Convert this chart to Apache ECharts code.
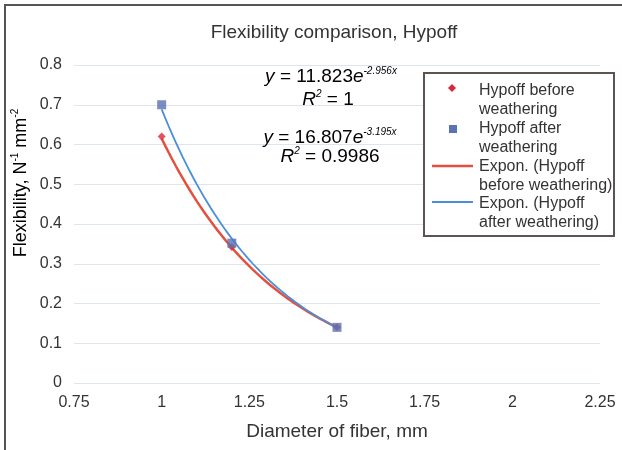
<!DOCTYPE html>
<html><head><meta charset="utf-8">
<script src="https://cdn.jsdelivr.net/npm/echarts@6/dist/echarts.min.js"></script>
<style>html,body{margin:0;padding:0;background:#fff}#c{width:622px;height:450px}</style>
</head><body><div id="c"></div>
<script>
// ---- data ----
const diameters = [1, 1.2, 1.5];
const beforeValues = [0.62, 0.342, 0.14];
const afterValues = [0.70, 0.352, 0.14];
// exponential trendline coefficients shown on the chart: y = a * e^(b x)
const beforeFit = [11.823, -2.956];
const afterFit = [16.807, -3.195];
const xTicks = [0.75, 1, 1.25, 1.5, 1.75, 2, 2.25];
const yTicks = [0, 0.1, 0.2, 0.3, 0.4, 0.5, 0.6, 0.7, 0.8];
const seriesNames = ['Hypoff before\nweathering', 'Hypoff after\nweathering', 'Expon. (Hypoff\nbefore weathering)', 'Expon. (Hypoff\nafter weathering)'];

function trend(fit) {
  const pts = [];
  const x0 = diameters[0], x1 = diameters[diameters.length - 1];
  const n = 50;
  for (let i = 0; i <= n; i++) {
    const x = x0 + (x1 - x0) * i / n;
    pts.push([x, fit[0] * Math.exp(fit[1] * x)]);
  }
  return pts;
}

const FONT = '"Liberation Sans", Arial, sans-serif';
const TXT = '#333';
const RED = '#e4503e', BLUE = '#4b8ed8', DIAM = '#d9283a', SQ = '#5a72b5';

const chart = echarts.init(document.getElementById('c'), null, {renderer: 'canvas'});
const eqRich = {
  t: {fontSize: 19, fontFamily: FONT, color: TXT, lineHeight: 22},
  i: {fontSize: 19, fontFamily: FONT, color: TXT, fontStyle: 'italic', lineHeight: 22},
  sup: {fontSize: 10, fontFamily: FONT, color: '#555', fontStyle: 'italic', verticalAlign: 'top', lineHeight: 22, padding: [0, 0, 10, 0]}
};
const nameRich = {
  t: {fontSize: 18, fontFamily: FONT, color: TXT, lineHeight: 22},
  sup: {fontSize: 10, fontFamily: FONT, color: TXT, verticalAlign: 'top', lineHeight: 22, padding: [0, 0, 10, 0]}
};
const legText = {fontSize: 16, fontFamily: FONT, fill: TXT, lineHeight: 18.8};
chart.setOption({
  animation: false,
  backgroundColor: '#fff',
  textStyle: {fontFamily: FONT},
  title: {text: 'Flexibility comparison, Hypoff', left: 329, top: 18, textAlign: 'center',
    textStyle: {fontSize: 19, fontWeight: 'normal', color: TXT, fontFamily: FONT}},
  grid: {left: 74, right: 22, top: 65, bottom: 67},
  xAxis: {type: 'value', min: xTicks[0], max: xTicks[xTicks.length - 1], interval: 0.25,
    axisLine: {show: false}, axisTick: {show: false}, splitLine: {show: false},
    axisLabel: {color: TXT, fontSize: 16, margin: 12, fontFamily: FONT, formatter: v => String(+v.toFixed(2))},
    name: 'Diameter of fiber, mm', nameLocation: 'middle', nameGap: 39,
    nameTextStyle: {color: TXT, fontSize: 19, fontFamily: FONT}},
  yAxis: {type: 'value', min: yTicks[0], max: yTicks[yTicks.length - 1], interval: 0.1,
    axisLine: {show: false}, axisTick: {show: false},
    splitLine: {lineStyle: {color: '#dde6ef', width: 1}},
    axisLabel: {color: TXT, fontSize: 16, margin: 12, fontFamily: FONT, formatter: v => String(+v.toFixed(1))}},
  series: [
    {name: seriesNames[2], type: 'line', data: trend(beforeFit), showSymbol: false, smooth: false,
      lineStyle: {color: RED, width: 2.5}, z: 2},
    {name: seriesNames[3], type: 'line', data: trend(afterFit), showSymbol: false, smooth: false,
      lineStyle: {color: BLUE, width: 1.8}, z: 3},
    {name: seriesNames[0], type: 'scatter', data: diameters.map((x, i) => [x, beforeValues[i]]),
      symbol: 'diamond', symbolSize: 8, itemStyle: {color: DIAM}, z: 4},
    {name: seriesNames[1], type: 'scatter', data: diameters.map((x, i) => [x, afterValues[i]]),
      symbol: 'rect', symbolSize: 9, itemStyle: {color: SQ}, z: 5}
  ],
  graphic: [
    {type: 'rect', z: 100, shape: {x: 5, y: 5, width: 640, height: 460}, style: {fill: 'none', stroke: '#555', lineWidth: 2}, silent: true},
    // y axis name
    {type: 'text', z: 100, x: 21, y: 183, rotation: Math.PI / 2,
      style: {text: '{t|Flexibility, N}{sup|-1}{t| mm}{sup|-2}', rich: nameRich, align: 'center', verticalAlign: 'middle'}},
    // equations
    {type: 'text', z: 100, x: 331, y: 77, style: {text: '{i|y}{t| = 11.823}{i|e}{sup|-2.956x}', rich: eqRich, align: 'center', verticalAlign: 'middle'}},
    {type: 'text', z: 100, x: 328, y: 100, style: {text: '{i|R}{sup|2}{t| = 1}', rich: eqRich, align: 'center', verticalAlign: 'middle'}},
    {type: 'text', z: 100, x: 330, y: 138, style: {text: '{i|y}{t| = 16.807}{i|e}{sup|-3.195x}', rich: eqRich, align: 'center', verticalAlign: 'middle'}},
    {type: 'text', z: 100, x: 330, y: 157, style: {text: '{i|R}{sup|2}{t| = 0.9986}', rich: eqRich, align: 'center', verticalAlign: 'middle'}},
    // legend
    {type: 'rect', z: 100, shape: {x: 424, y: 73, width: 190, height: 163}, style: {fill: '#fff', stroke: '#5c5452', lineWidth: 2}},
    {type: 'polygon', z: 101, shape: {points: [[452, 84], [456, 88], [452, 92], [448, 88]]}, style: {fill: DIAM}},
    {type: 'text', z: 101, x: 479, y: 81, style: Object.assign({text: seriesNames[0]}, legText)},
    {type: 'rect', z: 101, shape: {x: 449, y: 125, width: 8, height: 8}, style: {fill: SQ}},
    {type: 'text', z: 101, x: 479, y: 119, style: Object.assign({text: seriesNames[1]}, legText)},
    {type: 'line', z: 101, shape: {x1: 432, y1: 166, x2: 473, y2: 166}, style: {stroke: RED, lineWidth: 2.5}},
    {type: 'text', z: 101, x: 479, y: 157, style: Object.assign({text: seriesNames[2]}, legText)},
    {type: 'line', z: 101, shape: {x1: 432, y1: 202, x2: 473, y2: 202}, style: {stroke: BLUE, lineWidth: 1.8}},
    {type: 'text', z: 101, x: 479, y: 194, style: Object.assign({text: seriesNames[3]}, legText)}
  ]
});
</script></body></html>
